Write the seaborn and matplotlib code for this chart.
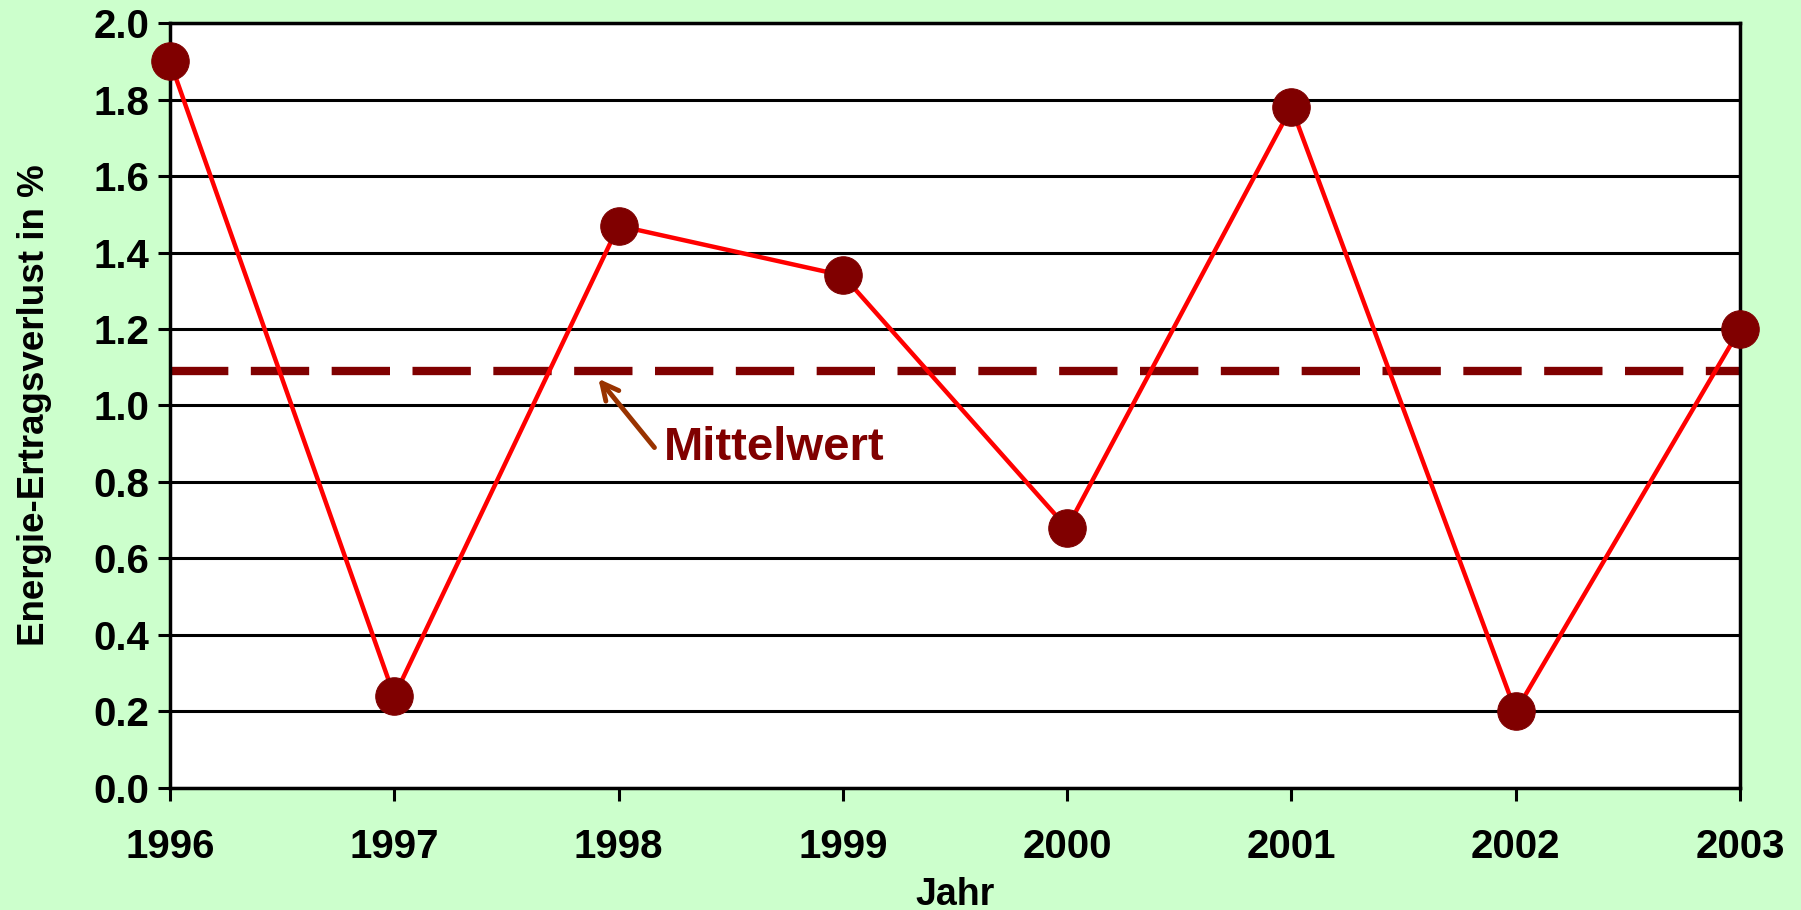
import matplotlib
matplotlib.use("Agg")
import matplotlib.pyplot as plt
import seaborn as sns
import pandas as pd

# data
years = [1996, 1997, 1998, 1999, 2000, 2001, 2002, 2003]
loss_pct = [1.90, 0.24, 1.47, 1.34, 0.68, 1.78, 0.20, 1.20]
mean_value = 1.09
y_ticks = [0.0, 0.2, 0.4, 0.6, 0.8, 1.0, 1.2, 1.4, 1.6, 1.8, 2.0]

df = pd.DataFrame({"Jahr": years, "Verlust": loss_pct})

sns.set_style("ticks")
plt.rcParams['font.family'] = ['Liberation Sans', 'DejaVu Sans']
plt.rcParams['font.weight'] = 'bold'

fig = plt.figure(figsize=(18.01, 9.10), dpi=100, facecolor="#CCFFCC")
ax = fig.add_axes([0.0944, 0.1341, 0.8717, 0.8406])
ax.set_facecolor("white")

# horizontal gridlines
ax.set_yticks(y_ticks)
ax.yaxis.grid(True, color="black", linewidth=2.2)
ax.xaxis.grid(False)
ax.set_axisbelow(True)

# mean line
ax.axhline(mean_value, color="#800000", linewidth=6, dashes=(7, 2.7), zorder=2)

# main series
sns.lineplot(data=df, x="Jahr", y="Verlust", ax=ax, color="#FF0000", linewidth=3.2,
             marker="o", markersize=27, markerfacecolor="#800000",
             markeredgecolor="#800000", clip_on=False, zorder=3)

ax.set_xlim(1996, 2003)
ax.set_ylim(0, 2.0)
ax.set_xticks(years)
ax.set_xticklabels([str(y) for y in years])
ax.set_yticklabels([f"{v:.1f}" for v in y_ticks])

for s in ax.spines.values():
    s.set_visible(True)
    s.set_color("black")
    s.set_linewidth(2.5)

ax.tick_params(axis="both", direction="out", length=9, width=2.2, colors="black",
               labelsize=29, pad=6)
ax.tick_params(axis="x", pad=20)

ax.set_xlabel("Jahr", fontsize=27, fontweight="bold", color="black", labelpad=8)
ax.set_ylabel("Energie-Ertragsverlust in %", fontsize=26.5, fontweight="bold",
              color="black", labelpad=30)

# annotation
ax.annotate("", xy=(1997.91, 1.07), xytext=(1998.16, 0.89),
            arrowprops=dict(arrowstyle="->", color="#993300", lw=3.5,
                            mutation_scale=30, shrinkA=0, shrinkB=0))
ax.text(1998.2, 0.89, "Mittelwert", color="#800000", fontsize=34,
        fontweight="bold", va="center", ha="left")

fig.savefig("out.png", dpi=100, facecolor=fig.get_facecolor())
